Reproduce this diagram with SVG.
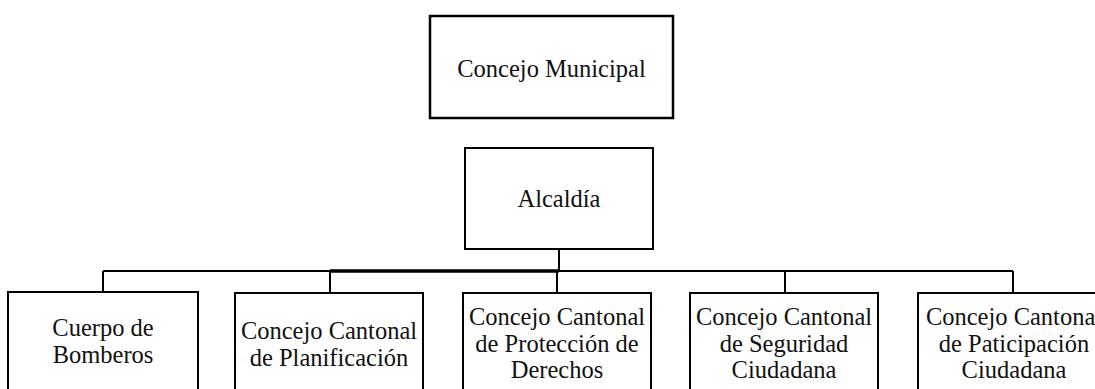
<svg xmlns="http://www.w3.org/2000/svg" width="1095" height="389" viewBox="0 0 1095 389">
<style>
.box{fill:#fff;stroke:#000;stroke-width:2}
.t{font-family:'Liberation Serif','Times New Roman',serif;font-size:24.5px;fill:#111;text-anchor:middle}
.c{stroke:#000;stroke-width:2;fill:none}
</style>
<rect width="1095" height="389" fill="#fff"/>
<g id="connectors">
<line class="c" x1="559" y1="249" x2="559" y2="271"/>
<line class="c" x1="103" y1="271" x2="1013" y2="271"/>
<line class="c" x1="330" y1="271" x2="559" y2="271" style="stroke-width:3.5"/>
<line class="c" x1="103" y1="271" x2="103" y2="292"/>
<line class="c" x1="330" y1="271" x2="330" y2="293"/>
<line class="c" x1="557" y1="271" x2="557" y2="293"/>
<line class="c" x1="785" y1="271" x2="785" y2="293"/>
<line class="c" x1="1013" y1="271" x2="1013" y2="293"/>
</g>
<g id="concejo-municipal">
<rect class="box" x="430" y="16" width="243" height="102" style="stroke-width:2.5"/>
<text class="t" x="551.5" y="77">Concejo Municipal</text>
</g>
<g id="alcaldia">
<rect class="box" x="465" y="148" width="188" height="101"/>
<text class="t" x="559" y="207">Alcaldía</text>
</g>
<g id="bomberos">
<rect class="box" x="8" y="292" width="190" height="110"/>
<text class="t" x="103" y="336">Cuerpo de</text>
<text class="t" x="103" y="363">Bomberos</text>
</g>
<g id="planificacion">
<rect class="box" x="235" y="293" width="188" height="110"/>
<text class="t" x="329" y="339">Concejo Cantonal</text>
<text class="t" x="329" y="366">de Planificación</text>
</g>
<g id="derechos">
<rect class="box" x="463" y="293" width="188" height="110"/>
<text class="t" x="557" y="325">Concejo Cantonal</text>
<text class="t" x="557" y="352">de Protección de</text>
<text class="t" x="557" y="378">Derechos</text>
</g>
<g id="seguridad">
<rect class="box" x="690" y="293" width="188" height="110"/>
<text class="t" x="784" y="325">Concejo Cantonal</text>
<text class="t" x="784" y="352">de Seguridad</text>
<text class="t" x="784" y="378">Ciudadana</text>
</g>
<g id="participacion">
<rect class="box" x="918" y="293" width="190" height="110"/>
<text class="t" x="1014" y="325">Concejo Cantonal</text>
<text class="t" x="1014" y="352">de Paticipación</text>
<text class="t" x="1014" y="378">Ciudadana</text>
</g>
</svg>
